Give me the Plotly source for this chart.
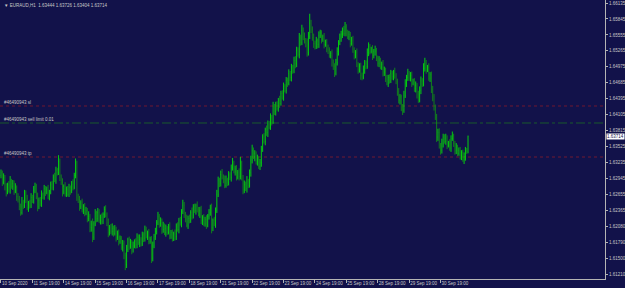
import plotly.graph_objects as go

# ---------------- data (EURAUD, H1) ----------------
symbol_header = "▼ EURAUD,H1  1.63444 1.63726 1.63404 1.63714"

first_open = 1.6300
close = [
    1.6305, 1.6288, 1.6296, 1.6279, 1.6270, 1.6284, 1.6274, 1.6290, 1.6280, 1.6286,
    1.6272, 1.6278, 1.6262, 1.6256, 1.6244, 1.6233, 1.6252, 1.6246, 1.6268, 1.6258,
    1.6241, 1.6250, 1.6245, 1.6260, 1.6256, 1.6272, 1.6281, 1.6262, 1.6243, 1.6255,
    1.6250, 1.6265, 1.6261, 1.6276, 1.6270, 1.6274, 1.6263, 1.6270, 1.6283, 1.6279,
    1.6297, 1.6292, 1.6310, 1.6305, 1.6325, 1.6297, 1.6288, 1.6270, 1.6280, 1.6268,
    1.6275, 1.6266, 1.6278, 1.6272, 1.6284, 1.6279, 1.6300, 1.6323, 1.6261, 1.6256,
    1.6243, 1.6250, 1.6238, 1.6244, 1.6232, 1.6236, 1.6222, 1.6226, 1.6205, 1.6212,
    1.6188, 1.6212, 1.6232, 1.6222, 1.6233, 1.6218, 1.6224, 1.6216, 1.6229, 1.6238,
    1.6228, 1.6215, 1.6196, 1.6206, 1.6198, 1.6204, 1.6195, 1.6203, 1.6188, 1.6194,
    1.6180, 1.6186, 1.6170, 1.6176, 1.6155, 1.6138, 1.6165, 1.6183, 1.6172, 1.6178,
    1.6165, 1.6172, 1.6180, 1.6174, 1.6188, 1.6178, 1.6184, 1.6176, 1.6192, 1.6186,
    1.6201, 1.6190, 1.6196, 1.6180, 1.6184, 1.6150, 1.6172, 1.6190, 1.6198, 1.6214,
    1.6225, 1.6212, 1.6218, 1.6202, 1.6208, 1.6196, 1.6204, 1.6197, 1.6206, 1.6192,
    1.6196, 1.6185, 1.6194, 1.6189, 1.6208, 1.6202, 1.6219, 1.6214, 1.6234, 1.6246,
    1.6230, 1.6221, 1.6210, 1.6222, 1.6218, 1.6233, 1.6228, 1.6243, 1.6236, 1.6245,
    1.6238, 1.6230, 1.6236, 1.6218, 1.6224, 1.6212, 1.6220, 1.6210, 1.6226, 1.6232,
    1.6241, 1.6205, 1.6218, 1.6212, 1.6237, 1.6265, 1.6292, 1.6286, 1.6302, 1.6297,
    1.6294, 1.6282, 1.6292, 1.6288, 1.6301, 1.6296, 1.6314, 1.6323, 1.6308, 1.6312,
    1.6297, 1.6305, 1.6298, 1.6323, 1.6295, 1.6274, 1.6284, 1.6276, 1.6290, 1.6282,
    1.6305, 1.6328, 1.6346, 1.6334, 1.6340, 1.6325, 1.6330, 1.6316, 1.6323, 1.6348,
    1.6370, 1.6362, 1.6383, 1.6378, 1.6394, 1.6388, 1.6406, 1.6398, 1.6425, 1.6416,
    1.6428, 1.6422, 1.6437, 1.6431, 1.6449, 1.6443, 1.6462, 1.6455, 1.6473, 1.6468,
    1.6485, 1.6478, 1.6497, 1.6490, 1.6509, 1.6503, 1.6528, 1.6520, 1.6550, 1.6541,
    1.6564, 1.6553, 1.6546, 1.6541, 1.6523, 1.6552, 1.6577, 1.6566, 1.6551, 1.6540,
    1.6534, 1.6545, 1.6538, 1.6554, 1.6559, 1.6548, 1.6552, 1.6538, 1.6542, 1.6530,
    1.6528, 1.6518, 1.6522, 1.6506, 1.6498, 1.6486, 1.6505, 1.6525, 1.6541, 1.6549,
    1.6557, 1.6564, 1.6558, 1.6570, 1.6561, 1.6552, 1.6556, 1.6540, 1.6546, 1.6528,
    1.6519, 1.6524, 1.6501, 1.6492, 1.6498, 1.6482, 1.6479, 1.6492, 1.6504, 1.6498,
    1.6524, 1.6534, 1.6526, 1.6530, 1.6518, 1.6525, 1.6528, 1.6512, 1.6504, 1.6510,
    1.6497, 1.6502, 1.6488, 1.6492, 1.6476, 1.6468, 1.6478, 1.6472, 1.6485, 1.6480,
    1.6488, 1.6481, 1.6470, 1.6452, 1.6437, 1.6443, 1.6424, 1.6419, 1.6445, 1.6468,
    1.6478, 1.6486, 1.6476, 1.6482, 1.6468, 1.6472, 1.6458, 1.6464, 1.6448, 1.6437,
    1.6455, 1.6472, 1.6466, 1.6495, 1.6504, 1.6492, 1.6497, 1.6477, 1.6483, 1.6456,
    1.6443, 1.6425, 1.6406, 1.6370, 1.6378, 1.6354, 1.6346, 1.6358, 1.6370, 1.6362,
    1.6368, 1.6355, 1.6359, 1.6350, 1.6367, 1.6372, 1.6358, 1.6346, 1.6352, 1.6340,
    1.6345, 1.6336, 1.6342, 1.6330, 1.6334, 1.6345, 1.63444, 1.63714,
]

# wick above max(open, close) and below min(open, close), in pips
hi_wick_pips = [
    6,4,8,5,7,3,6,9,4,6,5,8,4,6,7,5,9,4,6,5,
    7,4,6,8,5,9,6,4,7,5,6,8,4,7,5,6,9,4,6,7,
    5,8,6,4,12,6,5,7,4,8,5,6,7,4,6,9,5,8,4,6,
    7,5,8,4,6,7,5,9,4,6,10,5,7,4,8,6,5,7,4,6,
    8,5,7,4,6,9,5,7,4,6,8,5,4,7,6,5,9,4,6,7,
    5,8,4,6,7,5,9,4,6,5,8,6,4,7,5,6,8,4,7,5,
    9,5,6,4,8,5,7,4,6,9,5,6,4,8,5,7,4,6,5,10,
    6,4,8,5,7,4,9,5,6,4,8,5,7,9,4,6,5,8,4,7,
    6,8,4,7,5,9,6,4,7,10,5,6,8,4,7,5,6,9,4,6,
    7,5,8,11,4,6,7,5,9,4,6,8,10,5,6,4,8,5,7,6,
    5,7,4,8,6,5,7,4,9,5,6,7,4,8,5,6,7,4,6,5,
    8,5,6,4,7,8,6,5,9,6,10,5,7,4,8,9,17,6,5,7,
    5,7,4,8,6,5,4,7,5,6,8,5,4,7,5,6,7,8,5,9,
    6,5,8,9,5,4,7,5,6,8,5,4,7,5,6,7,5,8,6,5,
    7,8,5,4,7,5,8,4,6,7,4,5,8,6,4,7,5,6,7,5,
    4,8,5,6,7,5,4,6,9,7,5,8,4,6,7,4,5,7,4,6,
    7,8,5,9,10,6,4,7,5,6,7,5,4,6,7,8,5,9,6,5,
    8,5,4,7,6,8,4,5,7,4,6,7,4,5,8,7,5,1.2,
]
lo_wick_pips = [
    5,7,4,6,8,4,5,7,4,6,7,4,8,5,7,6,4,7,5,8,
    4,7,5,4,6,7,4,5,8,4,6,7,4,5,7,4,6,8,4,5,
    6,4,7,5,4,7,5,8,4,6,7,4,5,7,4,6,4,5,7,6,
    7,4,5,8,6,4,7,5,8,7,9,5,4,7,6,4,7,5,4,6,
    4,7,8,5,4,7,6,4,8,5,7,4,5,8,7,10,6,4,7,5,
    8,5,4,7,6,4,8,5,4,7,6,4,7,5,4,9,6,4,7,5,
    4,7,5,8,6,4,7,5,4,8,7,5,4,7,6,4,7,5,8,4,
    7,6,4,7,5,4,8,6,4,7,5,4,7,6,8,4,5,7,4,6,
    5,10,6,4,7,5,4,7,6,4,8,5,4,7,6,4,7,5,4,8,
    6,4,7,5,4,8,6,4,7,5,4,7,6,4,8,5,7,4,6,7,
    5,4,7,6,8,4,5,7,4,6,7,4,6,8,4,5,7,4,6,7,
    4,6,7,5,4,8,6,4,7,5,4,7,6,8,7,5,4,7,6,8,
    5,4,7,6,4,8,5,7,4,6,7,4,5,8,6,7,4,5,7,4,
    6,7,4,5,8,4,6,7,4,5,8,6,4,7,5,8,6,4,7,5,
    4,7,6,4,8,5,7,4,6,7,4,5,8,7,6,4,7,5,4,6,
    7,5,4,7,6,8,7,9,5,4,7,6,4,5,7,4,6,7,8,5,
    4,7,5,4,6,7,4,5,7,6,8,7,5,9,7,5,8,6,7,4,
    6,7,4,5,7,4,6,8,7,5,4,7,8,5,9,7,5,4,
]

date_labels = [
    "10 Sep 2020", "11 Sep 19:00", "14 Sep 19:00", "15 Sep 19:00", "16 Sep 19:00",
    "17 Sep 19:00", "18 Sep 19:00", "21 Sep 19:00", "22 Sep 19:00", "23 Sep 19:00",
    "24 Sep 19:00", "25 Sep 19:00", "28 Sep 19:00", "29 Sep 19:00", "30 Sep 19:00",
]
price_ticks = [
    1.66135, 1.65845, 1.65555, 1.65265, 1.64975, 1.64685, 1.64395, 1.64105, 1.63815,
    1.63525, 1.63235, 1.62945, 1.62655, 1.62365, 1.62080, 1.61790, 1.61500, 1.61210,
]
order_levels = [1.64264, 1.63955, 1.63337]
order_labels = ["#46490943 sl", "#46490943 sell limit 0.01", "#46490943 tp"]
last_price = 1.63714
BARS_PER_DAY = 24

# ---------------- build ----------------
n = min(len(close), len(hi_wick_pips), len(lo_wick_pips))
close = close[:n]
open_ = [first_open] + close[:-1]
high = [max(o, c) + h * 0.0001 for o, c, h in zip(open_, close, hi_wick_pips)]
low = [min(o, c) - l * 0.0001 for o, c, l in zip(open_, close, lo_wick_pips)]
bar_index = list(range(n))

BG = "#12124a"
FG = "#c8c8c8"
FONT = "Liberation Sans"

fig = go.Figure()
fig.add_trace(go.Ohlc(
    x=bar_index, open=open_, high=high, low=low, close=close,
    increasing=dict(line=dict(color="#00ff00", width=0.8)),
    decreasing=dict(line=dict(color="#129a12", width=0.8)),
    tickwidth=0.12, hoverinfo="skip", showlegend=False,
))

order_styles = [("#701830", "dot"), ("#1a5a2c", "dashdot"), ("#701830", "dot")]
for lvl, lab, (col, dash) in zip(order_levels, order_labels, order_styles):
    fig.add_shape(type="line", xref="paper", x0=0, x1=1, yref="y", y0=lvl, y1=lvl,
                  line=dict(color=col, width=1, dash=dash), layer="below")
    fig.add_annotation(xref="paper", x=0.004, yref="y", y=lvl, text=lab,
                       showarrow=False, xanchor="left", yanchor="bottom", yshift=-1,
                       font=dict(size=4.5, color=FG, family=FONT))

fig.add_annotation(xref="paper", x=0.004, yref="paper", y=1, text=symbol_header,
                   showarrow=False, xanchor="left", yanchor="top", yshift=-1,
                   font=dict(size=4.5, color=FG, family=FONT))

fig.add_annotation(xref="paper", x=1, yref="y", y=last_price, text=f"{last_price:.5f}",
                   showarrow=False, xanchor="left", yanchor="middle", xshift=1,
                   bgcolor="#ffffff", borderpad=0,
                   font=dict(size=4.5, color=BG, family=FONT))

fig.update_layout(
    width=625, height=288,
    margin=dict(l=0, r=20, t=0, b=9, pad=0, autoexpand=False),
    paper_bgcolor=BG, plot_bgcolor=BG,
    font=dict(family=FONT, size=4.5, color=FG),
    xaxis=dict(
        range=[-0.76, 461.7], rangeslider=dict(visible=False), automargin=False,
        tickvals=[k * BARS_PER_DAY for k in range(len(date_labels))], ticktext=date_labels,
        tickangle=0,
        ticks="outside", ticklen=3, tickcolor="#b4b4b4", ticklabelposition="outside right",
        showline=True, mirror=True, linecolor="#b4b4b4", linewidth=1,
        showgrid=False, zeroline=False, tickfont=dict(size=4.5, color=FG),
    ),
    yaxis=dict(
        side="right", range=[1.61120, 1.66190], automargin=False,
        tickvals=price_ticks, ticktext=[f"{v:.5f}" for v in price_ticks],
        ticks="outside", ticklen=2, tickcolor="#b4b4b4",
        showline=True, mirror=True, linecolor="#b4b4b4", linewidth=1,
        showgrid=False, zeroline=False, tickfont=dict(size=4.5, color=FG),
    ),
)

fig.write_html("out.html")
